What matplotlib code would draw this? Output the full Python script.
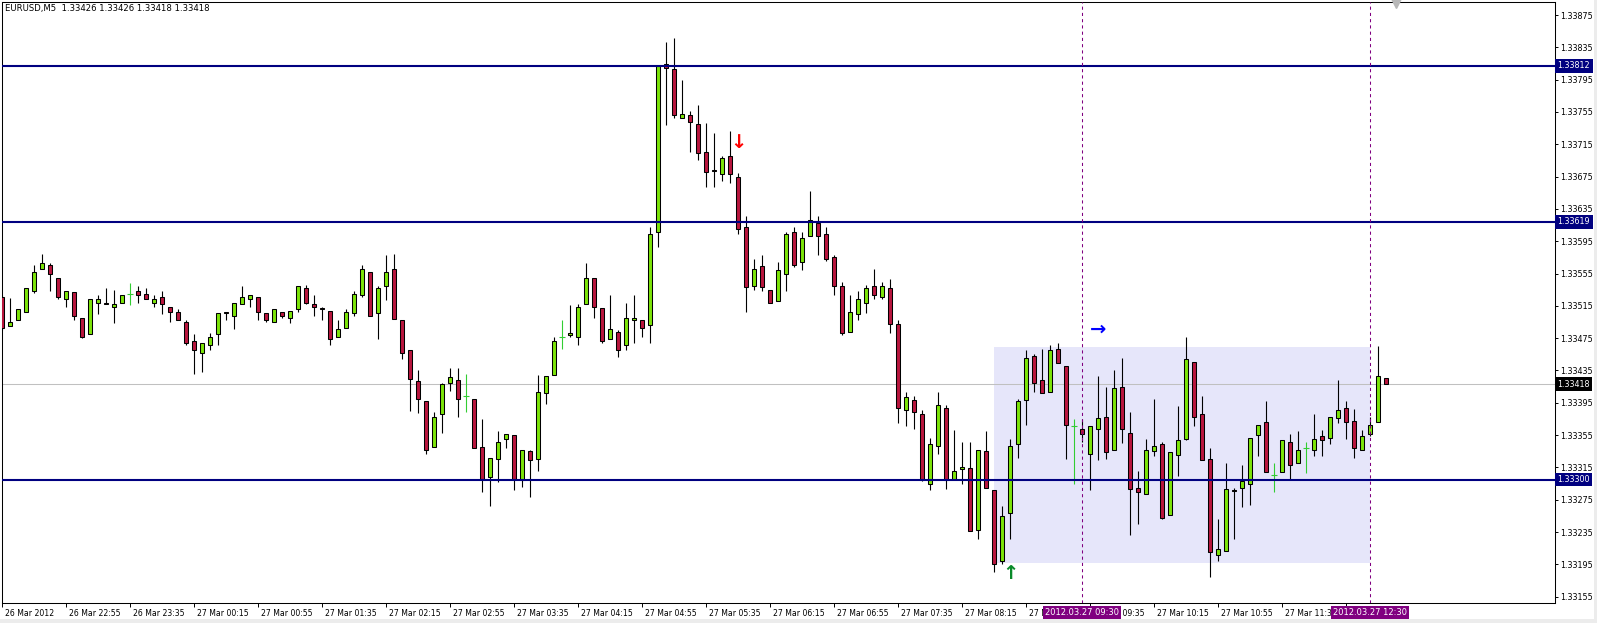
import numpy as np
import matplotlib
matplotlib.use("Agg")
import matplotlib.pyplot as plt
import matplotlib.transforms as mtransforms
from matplotlib.patches import Rectangle

header = "EURUSD,M5  1.33426 1.33426 1.33418 1.33418"

# EURUSD M5 bars, 26 Mar 2012 22:15 .. 27 Mar 2012 12:40
opens = [
    1.33526, 1.33490, 1.33497, 1.33508, 1.33534, 1.33560, 1.33566, 1.33550, 1.33523, 1.33532,
    1.33500, 1.33480, 1.33519, 1.33519, 1.33514, 1.33519, 1.33530, 1.33534, 1.33530, 1.33519,
    1.33526, 1.33514, 1.33508, 1.33495, 1.33471, 1.33457, 1.33466, 1.33480, 1.33508, 1.33503,
    1.33517, 1.33523, 1.33526, 1.33506, 1.33495, 1.33508, 1.33500, 1.33511, 1.33537, 1.33517,
    1.33512, 1.33509, 1.33476, 1.33488, 1.33506, 1.33529, 1.33557, 1.33506, 1.33540, 1.33560,
    1.33497, 1.33460, 1.33422, 1.33397, 1.33340, 1.33381, 1.33420, 1.33423, 1.33403, 1.33400,
    1.33340, 1.33303, 1.33325, 1.33350, 1.33355, 1.33299, 1.33335, 1.33326, 1.33407, 1.33429,
    1.33476, 1.33479, 1.33477, 1.33517, 1.33549, 1.33512, 1.33474, 1.33483, 1.33467, 1.33497,
    1.33497, 1.33491, 1.33606, 1.33814, 1.33808, 1.33747, 1.33751, 1.33740, 1.33706, 1.33683,
    1.33678, 1.33700, 1.33675, 1.33612, 1.33540, 1.33564, 1.33535, 1.33521, 1.33555, 1.33606,
    1.33569, 1.33601, 1.33618, 1.33604, 1.33575, 1.33539, 1.33483, 1.33505, 1.33519, 1.33540,
    1.33526, 1.33537, 1.33493, 1.33386, 1.33399, 1.33381, 1.33295, 1.33341, 1.33389, 1.33301,
    1.33313, 1.33314, 1.33237, 1.33335, 1.33287, 1.33199, 1.33258, 1.33344, 1.33399, 1.33453,
    1.33423, 1.33408, 1.33462, 1.33440, 1.33366, 1.33363, 1.33332, 1.33363, 1.33378, 1.33336,
    1.33415, 1.33358, 1.33290, 1.33282, 1.33335, 1.33344, 1.33256, 1.33331, 1.33350, 1.33445,
    1.33381, 1.33326, 1.33206, 1.33211, 1.33287, 1.33289, 1.33295, 1.33355, 1.33371, 1.33306,
    1.33309, 1.33346, 1.33320, 1.33339, 1.33336, 1.33354, 1.33351, 1.33376, 1.33388, 1.33373,
    1.33336, 1.33356, 1.33371, 1.33426,
]
highs = [
    1.33528, 1.33525, 1.33511, 1.33537, 1.33565, 1.33579, 1.33568, 1.33550, 1.33534, 1.33532,
    1.33500, 1.33523, 1.33528, 1.33537, 1.33535, 1.33528, 1.33543, 1.33540, 1.33537, 1.33528,
    1.33534, 1.33514, 1.33511, 1.33497, 1.33480, 1.33469, 1.33482, 1.33506, 1.33508, 1.33519,
    1.33540, 1.33528, 1.33526, 1.33506, 1.33511, 1.33508, 1.33509, 1.33540, 1.33541, 1.33528,
    1.33514, 1.33509, 1.33497, 1.33511, 1.33533, 1.33566, 1.33557, 1.33540, 1.33578, 1.33579,
    1.33497, 1.33460, 1.33435, 1.33397, 1.33383, 1.33420, 1.33438, 1.33438, 1.33431, 1.33400,
    1.33375, 1.33327, 1.33360, 1.33357, 1.33355, 1.33337, 1.33337, 1.33429, 1.33428, 1.33476,
    1.33498, 1.33516, 1.33517, 1.33568, 1.33549, 1.33512, 1.33528, 1.33485, 1.33519, 1.33528,
    1.33497, 1.33612, 1.33812, 1.33841, 1.33847, 1.33795, 1.33756, 1.33764, 1.33741, 1.33729,
    1.33700, 1.33731, 1.33680, 1.33626, 1.33573, 1.33578, 1.33535, 1.33569, 1.33607, 1.33612,
    1.33606, 1.33657, 1.33626, 1.33612, 1.33578, 1.33544, 1.33529, 1.33534, 1.33541, 1.33561,
    1.33545, 1.33548, 1.33498, 1.33408, 1.33403, 1.33386, 1.33351, 1.33408, 1.33392, 1.33361,
    1.33347, 1.33347, 1.33337, 1.33360, 1.33287, 1.33267, 1.33350, 1.33400, 1.33460, 1.33456,
    1.33462, 1.33466, 1.33469, 1.33440, 1.33375, 1.33375, 1.33366, 1.33428, 1.33415, 1.33435,
    1.33450, 1.33384, 1.33310, 1.33350, 1.33400, 1.33346, 1.33334, 1.33391, 1.33476, 1.33445,
    1.33403, 1.33339, 1.33251, 1.33320, 1.33289, 1.33318, 1.33351, 1.33368, 1.33397, 1.33320,
    1.33349, 1.33357, 1.33360, 1.33347, 1.33381, 1.33361, 1.33377, 1.33423, 1.33397, 1.33387,
    1.33361, 1.33378, 1.33465, 1.33426,
]
lows = [
    1.33485, 1.33490, 1.33497, 1.33508, 1.33531, 1.33560, 1.33534, 1.33523, 1.33514, 1.33497,
    1.33475, 1.33480, 1.33505, 1.33517, 1.33494, 1.33519, 1.33516, 1.33519, 1.33523, 1.33514,
    1.33505, 1.33495, 1.33497, 1.33466, 1.33431, 1.33433, 1.33460, 1.33466, 1.33497, 1.33486,
    1.33517, 1.33514, 1.33497, 1.33495, 1.33495, 1.33500, 1.33494, 1.33508, 1.33517, 1.33503,
    1.33497, 1.33466, 1.33476, 1.33488, 1.33503, 1.33526, 1.33503, 1.33474, 1.33522, 1.33499,
    1.33449, 1.33385, 1.33382, 1.33332, 1.33340, 1.33358, 1.33409, 1.33377, 1.33383, 1.33339,
    1.33284, 1.33267, 1.33297, 1.33339, 1.33287, 1.33291, 1.33278, 1.33311, 1.33394, 1.33429,
    1.33461, 1.33476, 1.33466, 1.33517, 1.33500, 1.33469, 1.33474, 1.33452, 1.33460, 1.33469,
    1.33477, 1.33469, 1.33588, 1.33739, 1.33747, 1.33747, 1.33705, 1.33696, 1.33662, 1.33662,
    1.33669, 1.33667, 1.33604, 1.33507, 1.33535, 1.33533, 1.33519, 1.33521, 1.33533, 1.33563,
    1.33559, 1.33601, 1.33578, 1.33570, 1.33529, 1.33479, 1.33483, 1.33498, 1.33506, 1.33523,
    1.33523, 1.33482, 1.33370, 1.33366, 1.33363, 1.33298, 1.33287, 1.33332, 1.33288, 1.33301,
    1.33294, 1.33236, 1.33227, 1.33289, 1.33186, 1.33196, 1.33227, 1.33327, 1.33367, 1.33408,
    1.33407, 1.33408, 1.33444, 1.33326, 1.33295, 1.33346, 1.33287, 1.33324, 1.33325, 1.33336,
    1.33345, 1.33231, 1.33245, 1.33282, 1.33329, 1.33251, 1.33256, 1.33305, 1.33349, 1.33366,
    1.33324, 1.33179, 1.33199, 1.33211, 1.33227, 1.33266, 1.33269, 1.33329, 1.33309, 1.33284,
    1.33309, 1.33299, 1.33320, 1.33308, 1.33329, 1.33329, 1.33344, 1.33370, 1.33350, 1.33327,
    1.33336, 1.33354, 1.33371, 1.33418,
]
closes = [
    1.33488, 1.33495, 1.33511, 1.33537, 1.33557, 1.33568, 1.33554, 1.33526, 1.33534, 1.33503,
    1.33477, 1.33523, 1.33523, 1.33517, 1.33517, 1.33528, 1.33530, 1.33528, 1.33523, 1.33523,
    1.33517, 1.33508, 1.33497, 1.33469, 1.33460, 1.33469, 1.33477, 1.33506, 1.33506, 1.33519,
    1.33526, 1.33528, 1.33508, 1.33497, 1.33511, 1.33503, 1.33509, 1.33540, 1.33519, 1.33513,
    1.33511, 1.33474, 1.33486, 1.33508, 1.33530, 1.33560, 1.33503, 1.33537, 1.33557, 1.33499,
    1.33457, 1.33424, 1.33400, 1.33337, 1.33377, 1.33418, 1.33427, 1.33400, 1.33403, 1.33339,
    1.33301, 1.33327, 1.33347, 1.33357, 1.33301, 1.33337, 1.33324, 1.33408, 1.33428, 1.33472,
    1.33476, 1.33481, 1.33513, 1.33550, 1.33513, 1.33471, 1.33486, 1.33460, 1.33500, 1.33500,
    1.33488, 1.33604, 1.33812, 1.33810, 1.33751, 1.33753, 1.33742, 1.33704, 1.33681, 1.33682,
    1.33698, 1.33678, 1.33610, 1.33538, 1.33561, 1.33538, 1.33519, 1.33559, 1.33604, 1.33566,
    1.33599, 1.33621, 1.33601, 1.33573, 1.33540, 1.33482, 1.33507, 1.33523, 1.33537, 1.33528,
    1.33540, 1.33492, 1.33388, 1.33402, 1.33384, 1.33299, 1.33344, 1.33392, 1.33299, 1.33310,
    1.33316, 1.33236, 1.33337, 1.33289, 1.33196, 1.33255, 1.33341, 1.33397, 1.33450, 1.33420,
    1.33407, 1.33460, 1.33444, 1.33368, 1.33366, 1.33357, 1.33366, 1.33376, 1.33334, 1.33413,
    1.33363, 1.33288, 1.33285, 1.33337, 1.33341, 1.33253, 1.33334, 1.33349, 1.33449, 1.33377,
    1.33324, 1.33210, 1.33214, 1.33288, 1.33286, 1.33298, 1.33351, 1.33368, 1.33309, 1.33306,
    1.33349, 1.33318, 1.33336, 1.33339, 1.33350, 1.33349, 1.33377, 1.33386, 1.33371, 1.33339,
    1.33354, 1.33367, 1.33428, 1.33418,
]

# horizontal levels drawn on the chart
levels = [1.33812, 1.33619, 1.33300]
bid_price = 1.33418

# vertical time lines (bar index) with their labels
vline_bars = [135, 171]
vline_labels = ["2012.03.27 09:30", "2012.03.27 12:30"]

# range box
box_first_bar = 124
box_last_bar = 171
box_high = 1.33464
box_low = 1.33197

# signal arrows: (bar, price, glyph, colour)
arrows = [
    (92, 1.33717, "\u2193", "#FF0000"),
    (137, 1.33486, "\u2192", "#0000FF"),
    (126, 1.33184, "\u2191", "#0A8A2A"),
]

time_tick_bars = list(range(0, 169, 8))
time_tick_labels = [
    "26 Mar 2012", "26 Mar 22:55", "26 Mar 23:35", "27 Mar 00:15", "27 Mar 00:55",
    "27 Mar 01:35", "27 Mar 02:15", "27 Mar 02:55", "27 Mar 03:35", "27 Mar 04:15",
    "27 Mar 04:55", "27 Mar 05:35", "27 Mar 06:15", "27 Mar 06:55", "27 Mar 07:35",
    "27 Mar 08:15", "27 Mar 08:55", "27 Mar 09:35", "27 Mar 10:15", "27 Mar 10:55",
    "27 Mar 11:35", "27 Mar 12:15",
]
price_ticks = [1.33155, 1.33195, 1.33235, 1.33275, 1.33315, 1.33355, 1.33395, 1.33435,
               1.33475, 1.33515, 1.33555, 1.33595, 1.33635, 1.33675, 1.33715, 1.33755,
               1.33795, 1.33835, 1.33875]

bull_color = "#7CE40A"
bear_color = "#B8163E"
doji_color = "#32CD32"

W, H = 1597, 623
fig = plt.figure(figsize=(W / 100, H / 100), dpi=100)
fig.patch.set_facecolor("white")
ax = fig.add_axes([2 / W, 20 / H, 1553 / W, 601 / H])

o = np.array(opens)
h = np.array(highs)
l = np.array(lows)
c = np.array(closes)
x = np.arange(len(o))
up = c > o
down = c < o
flat = c == o

# background objects
ax.add_patch(Rectangle((box_first_bar, box_low), box_last_bar - box_first_bar,
                       box_high - box_low, facecolor="#E6E6FA", edgecolor="none", zorder=0.5))
ax.axhline(bid_price, color="#C0C0C0", lw=0.75, zorder=1)

# candles
ax.vlines(x[~flat], l[~flat], h[~flat], color="black", lw=0.8, zorder=2)
ax.bar(x[up], (c - o)[up], bottom=o[up], width=0.5, color=bull_color,
       edgecolor="black", linewidth=0.75, zorder=3)
ax.bar(x[down], (o - c)[down], bottom=c[down], width=0.5, color=bear_color,
       edgecolor="black", linewidth=0.75, zorder=3)
ax.vlines(x[flat], l[flat], h[flat], color=doji_color, lw=0.8, zorder=3)
ax.hlines(o[flat], x[flat] - 0.32, x[flat] + 0.32, color=doji_color, lw=0.8, zorder=3)

# levels and time lines
for lv in levels:
    ax.axhline(lv, color="#000080", lw=1.5, zorder=4)
for b in vline_bars:
    ax.axvline(b, color="#800080", lw=0.75, ls=(0, (3, 3)), zorder=4)

for b, p, g, col in arrows:
    ax.text(b, p, g, color=col, fontsize=14, fontweight="bold",
            ha="center", va="center", zorder=5)

ax.set_xlim(0, 1553 / 8)
ax.set_ylim(1.331472, 1.338911)

# price axis on the right
ax.yaxis.tick_right()
ax.set_yticks(price_ticks)
ax.set_yticklabels(["%.5f" % p for p in price_ticks])
ax.tick_params(axis="y", direction="out", length=2.5, width=0.7, pad=1.5,
               labelsize=5.8, colors="black")

# time axis
ax.set_xticks(time_tick_bars)
ax.set_xticklabels(time_tick_labels, ha="left")
ax.tick_params(axis="x", direction="out", length=3, width=0.7, pad=1.5, labelsize=5.6)
shift = mtransforms.ScaledTranslation(3 / 100, 0, fig.dpi_scale_trans)
for lbl in ax.get_xticklabels():
    lbl.set_transform(lbl.get_transform() + shift)

for sp in ax.spines.values():
    sp.set_linewidth(0.75)
    sp.set_color("black")

# price tags on the right
ytrans = ax.get_yaxis_transform()
for lv in levels:
    ax.text(1.0016, lv, "%.5f" % lv, transform=ytrans, fontsize=5.8, color="white",
            va="center", ha="left", clip_on=False, zorder=10,
            bbox=dict(boxstyle="square,pad=0.3", facecolor="#000080", edgecolor="none"))
ax.text(1.0016, bid_price, "%.5f" % bid_price, transform=ytrans, fontsize=5.8,
        color="white", va="center", ha="left", clip_on=False, zorder=10,
        bbox=dict(boxstyle="square,pad=0.3", facecolor="black", edgecolor="none"))

# time tags below the axis
xtrans = ax.get_xaxis_transform()
for b, txt in zip(vline_bars, vline_labels):
    ax.text(b, -0.0158, txt, transform=xtrans, fontsize=6, color="white",
            va="center", ha="center", clip_on=False, zorder=10,
            bbox=dict(boxstyle="square,pad=0.25", facecolor="#800080", edgecolor="none"))

# chart shift marker
ax.plot([174.3], [1.338911], marker="v", color="#B8B8B8", ms=8, clip_on=False, zorder=6)

fig.text(5 / W, 1 - 4 / H, header, fontsize=6.1, va="top", ha="left", color="black")

fig.patches.append(Rectangle((0, 0), 1, 4 / H, transform=fig.transFigure,
                             facecolor="#ECECEC", edgecolor="none"))
fig.patches.append(Rectangle((1 - 3 / W, 0), 3 / W, 1, transform=fig.transFigure,
                             facecolor="#ECECEC", edgecolor="none"))

fig.savefig("out.png", dpi=100)
